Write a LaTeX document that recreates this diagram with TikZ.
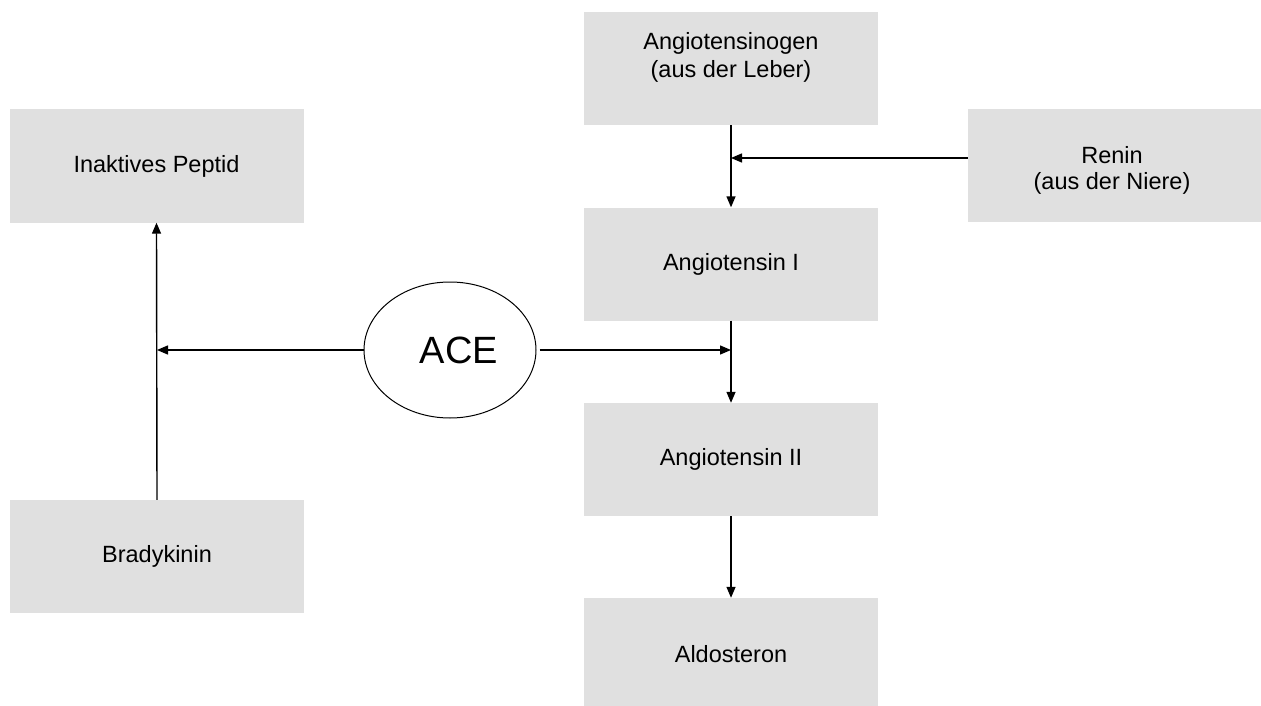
\documentclass[tikz,border=0pt]{standalone}
\usepackage{fontspec}
\setmainfont{Liberation Sans}
\usetikzlibrary{arrows.meta,shapes.geometric}
\begin{document}
\begin{tikzpicture}[x=1pt,y=-1pt,
  box/.style={rectangle,fill=boxgray,draw=none,minimum width=294pt,minimum height=113pt,inner sep=0pt,
    font=\fontsize{23.5}{28}\selectfont},
  txt/.style={align=center,inner sep=0pt,font=\fontsize{23.5}{28}\selectfont},
  conn/.style={line width=1.4pt,-{Triangle[length=11pt,width=9pt]}},
  line cap=butt]
\definecolor{boxgray}{RGB}{224,224,224}
\useasboundingbox (0,0) rectangle (1261,706);
\node[box] (ang) at (731,68.5) {};
\node[txt] (angt) at (731,57.5) {Angiotensinogen\\ (aus der Leber)};
\node[box,minimum width=293pt] (renin) at (1114.5,165.5) {};
\node[txt,font=\fontsize{23.5}{26}\selectfont] (renint) at (1112,170) {Renin\\(aus der Niere)};
\node[box] (inak) at (156.5,166) {Inaktives Peptid\hspace{14pt}};
\node[box] (ang1) at (731,264) {Angiotensin I};
\node[box] (ang2) at (731,459.5) {Angiotensin II};
\node[box] (brady) at (157,556.5) {Bradykinin\hspace{8pt}};
\node[box] (aldo) at (731,654.5) {Aldosteron};
\node[ellipse,draw,line width=1pt,minimum width=172pt,minimum height=136pt,inner sep=0pt] (ace) at (450,350) {};
\node[inner sep=0pt,font=\fontsize{38}{42}\selectfont] (acet) at (459,350) {ACE};
\coordinate (rj) at (731,158);
\coordinate (aj) at (731,350);
\coordinate (bj) at (157,350);
\draw[conn] (ang.south) -- (ang1.north);
\draw[conn] (renin.west |- rj) -- (rj);
\draw[conn] (ang1.south) -- (ang2.north);
\draw[conn] (ang2.south) -- (aldo.north);
\draw[conn] ([xshift=3pt]ace.east) -- (aj);
\draw[conn] (ace.west) -- (bj);
\draw[conn] (brady.north) -- (inak.south);
\end{tikzpicture}
\end{document}
